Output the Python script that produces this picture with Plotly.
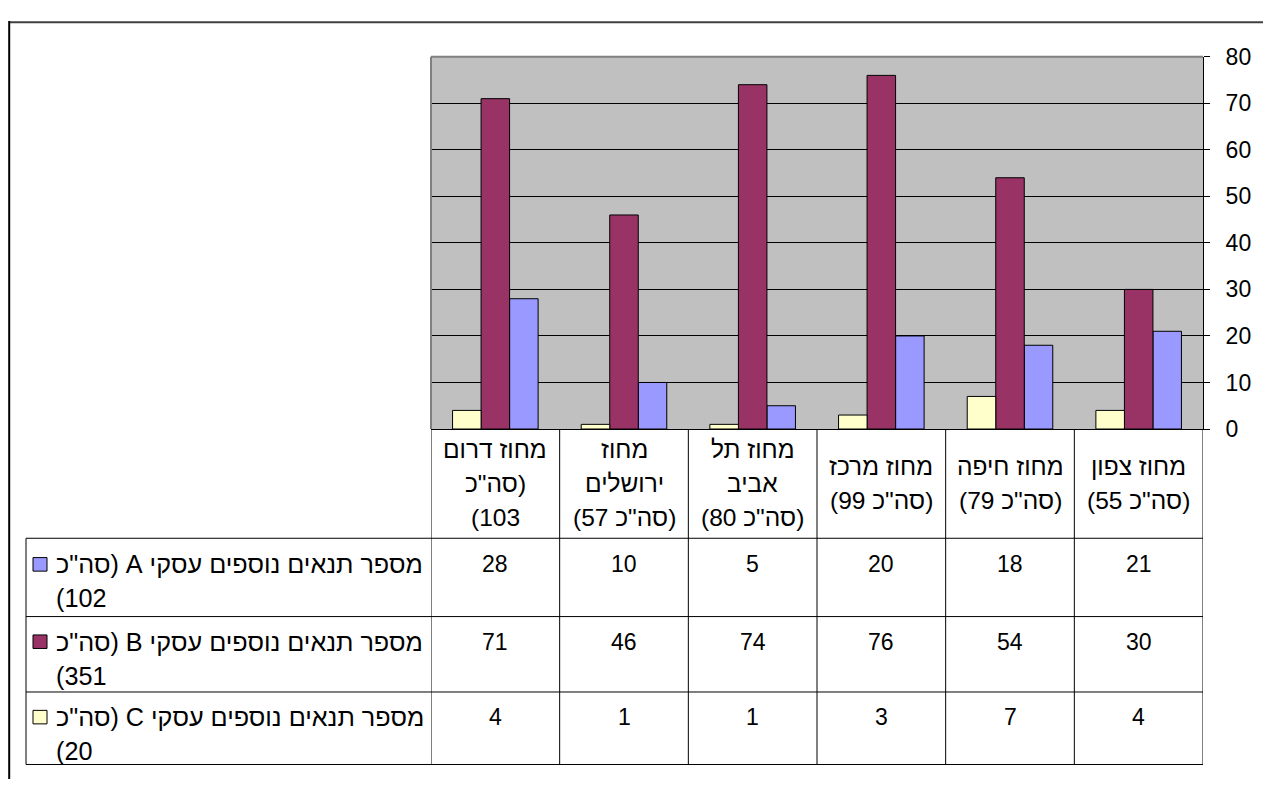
import plotly.graph_objects as go

# page offset: the html body adds an 8px margin around the figure
OFF = 8
W, H = 1271 - OFF, 792 - OFF

# ---------------- data ----------------
categories = ["מחוז צפון", "מחוז חיפה", "מחוז מרכז", "מחוז תל אביב", "מחוז ירושלים", "מחוז דרום"]
category_label_lines = [
    ["מחוז צפון", '(סה"כ 55)'],
    ["מחוז חיפה", '(סה"כ 79)'],
    ["מחוז מרכז", '(סה"כ 99)'],
    ["מחוז תל", "אביב", '(סה"כ 80)'],
    ["מחוז", "ירושלים", '(סה"כ 57)'],
    ["מחוז דרום", '(סה"כ', "103)"],
]
series_keys = ["A", "B", "C"]
series_label_lines = [
    ['מספר תנאים נוספים עסקי A (סה"כ', "102)"],
    ['מספר תנאים נוספים עסקי B (סה"כ', "351)"],
    ['מספר תנאים נוספים עסקי C (סה"כ', "20)"],
]
values_A = [21, 18, 20, 5, 10, 28]
values_B = [30, 54, 76, 74, 46, 71]
values_C = [4, 7, 3, 1, 1, 4]
series_values = [values_A, values_B, values_C]
y_ticks = [0, 10, 20, 30, 40, 50, 60, 70, 80]

# ---------------- styles ----------------
colors = ["#9999FF", "#993366", "#FFFFCC"]
FONT = "Liberation Sans, Arial, sans-serif"
FS_NUM = 23
FS_TXT = 24.5
FS_LEG = 25.2


def X(px):
    return (px - OFF) / W


def Y(py):
    return 1 - (py - OFF) / H


def rtl(s):
    return "\u202B" + s + "\u202C"


PLOT_L, PLOT_R, PLOT_T, PLOT_B = 431, 1203, 45, 430
LEG_L = 26
ROW_LINES = [543, 624, 702, 777]
ROW_FIRST = [570, 650, 728]
LINE_SP = 35

fig = go.Figure()
for key, vals, col in zip(series_keys, series_values, colors):
    fig.add_bar(
        x=categories, y=vals, name=key,
        marker=dict(color=col, line=dict(color="black", width=1)),
    )

fig.update_layout(
    width=W, height=H,
    margin=dict(l=0, r=0, t=0, b=0),
    paper_bgcolor="white",
    plot_bgcolor="#C0C0C0",
    barmode="group", bargap=0.335, bargroupgap=0,
    showlegend=False,
    font=dict(family=FONT, size=FS_NUM, color="black"),
    xaxis=dict(
        domain=[X(PLOT_L), X(PLOT_R)],
        type="category", range=[5.5, -0.5],
        showticklabels=False, ticks="",
        showline=True, linecolor="black", linewidth=1,
        showgrid=False, zeroline=False,
    ),
    yaxis=dict(
        domain=[Y(PLOT_B), Y(PLOT_T)],
        side="right", range=[0, 80],
        tickvals=y_ticks, ticktext=[str(t) for t in y_ticks],
        ticks="outside", ticklen=6, tickcolor="black", tickwidth=1,
        ticklabelstandoff=11,
        showline=True, linecolor="black", linewidth=1,
        showgrid=True, gridcolor="black", gridwidth=1,
        zeroline=False,
        tickfont=dict(family=FONT, size=FS_NUM, color="black"),
    ),
)

shapes = []
anns = []

# plot area border (top / left, gray)
shapes.append(dict(type="line", xref="paper", yref="paper",
                   x0=X(PLOT_L), x1=X(PLOT_R), y0=Y(PLOT_T), y1=Y(PLOT_T),
                   line=dict(color="#808080", width=2)))
shapes.append(dict(type="line", xref="paper", yref="paper",
                   x0=X(PLOT_L), x1=X(PLOT_L), y0=Y(PLOT_T), y1=Y(PLOT_B),
                   line=dict(color="#808080", width=2)))

# outer frame (top and left visible)
shapes.append(dict(type="line", xref="paper", yref="paper",
                   x0=0.0008, x1=1, y0=1 - 1.2 / H, y1=1 - 1.2 / H,
                   line=dict(color="#404040", width=2)))
shapes.append(dict(type="line", xref="paper", yref="paper",
                   x0=1.2 / W, x1=1.2 / W, y0=1, y1=0,
                   line=dict(color="black", width=2)))

# data table: vertical lines at category boundaries
for i in range(len(categories) + 1):
    shapes.append(dict(type="line", xref="x", yref="paper",
                       x0=i - 0.5, x1=i - 0.5, y0=Y(PLOT_B), y1=Y(ROW_LINES[-1]),
                       line=dict(color="black", width=1)))
# legend column left edge
shapes.append(dict(type="line", xref="paper", yref="paper",
                   x0=X(LEG_L), x1=X(LEG_L), y0=Y(ROW_LINES[0]), y1=Y(ROW_LINES[-1]),
                   line=dict(color="black", width=1)))
# horizontal row lines
for ry in ROW_LINES:
    shapes.append(dict(type="line", xref="paper", yref="paper",
                       x0=X(LEG_L), x1=X(PLOT_R), y0=Y(ry), y1=Y(ry),
                       line=dict(color="black", width=1)))

# header: category labels
head_center = (PLOT_B + ROW_LINES[0]) / 2
for cat, lines in zip(categories, category_label_lines):
    n = len(lines)
    for k, ln in enumerate(lines):
        yy = head_center + (k - (n - 1) / 2) * LINE_SP
        anns.append(dict(x=cat, xref="x", y=Y(yy), yref="paper",
                         text=rtl(ln), showarrow=False,
                         font=dict(size=FS_TXT),
                         xanchor="center", yanchor="middle"))

# rows: legend keys, labels and values
for r, (lines, vals, col) in enumerate(zip(series_label_lines, series_values, colors)):
    y1 = ROW_FIRST[r]
    shapes.append(dict(type="rect", xref="paper", yref="paper",
                       x0=X(33), x1=X(47), y0=Y(y1 - 7), y1=Y(y1 + 7),
                       fillcolor=col, line=dict(color="black", width=1)))
    for k, ln in enumerate(lines):
        anns.append(dict(x=X(54), xref="paper", y=Y(y1 + k * LINE_SP), yref="paper",
                         text=rtl(ln), showarrow=False,
                         font=dict(size=FS_LEG),
                         xanchor="left", yanchor="middle"))
    for cat, v in zip(categories, vals):
        anns.append(dict(x=cat, xref="x", y=Y(y1), yref="paper",
                         text=str(v), showarrow=False,
                         xanchor="center", yanchor="middle"))

fig.update_layout(shapes=shapes, annotations=anns)
fig.write_html("out.html")
